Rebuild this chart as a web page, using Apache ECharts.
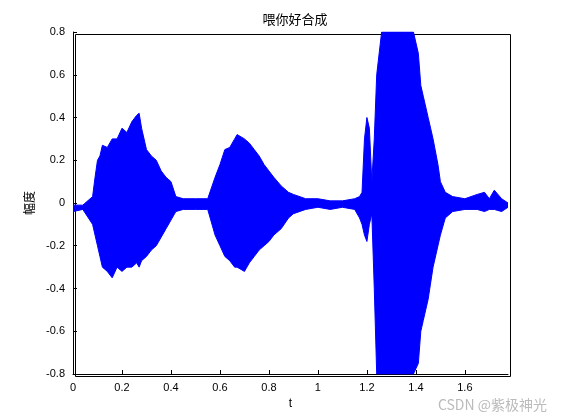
<!DOCTYPE html>
<html>
<head>
<meta charset="utf-8">
<script src="https://cdn.jsdelivr.net/npm/echarts@6/dist/echarts.min.js"></script>
<style>html,body{margin:0;background:#fff}#chart{width:561px;height:420px}</style>
</head>
<body>
<div id="chart"></div>
<script>
// envelope of the waveform: time, upper, lower
var times = [0,0.04,0.08,0.09,0.1,0.11,0.12,0.14,0.16,0.18,0.2,0.22,0.24,0.26,0.27,0.28,0.3,0.32,0.34,0.36,0.38,0.4,0.42,0.45,0.5,0.55,0.58,0.6,0.62,0.64,0.66,0.67,0.7,0.72,0.74,0.76,0.78,0.8,0.82,0.85,0.88,0.9,0.95,1.0,1.05,1.1,1.15,1.17,1.18,1.19,1.2,1.21,1.22,1.23,1.24,1.26,1.28,1.3,1.33,1.36,1.39,1.41,1.42,1.43,1.45,1.47,1.49,1.5,1.52,1.55,1.6,1.65,1.68,1.7,1.72,1.75,1.776];
var upper = [-0.01,-0.01,0.03,0.12,0.2,0.22,0.27,0.26,0.3,0.3,0.35,0.33,0.38,0.41,0.42,0.35,0.25,0.22,0.2,0.15,0.12,0.1,0.03,0.02,0.02,0.02,0.12,0.18,0.25,0.26,0.3,0.32,0.3,0.28,0.25,0.22,0.18,0.15,0.12,0.08,0.05,0.04,0.02,0.02,0.01,0.01,0.02,0.03,0.05,0.3,0.4,0.35,0.1,0.3,0.6,0.8,0.8,0.8,0.8,0.8,0.8,0.7,0.55,0.5,0.4,0.3,0.18,0.1,0.05,0.03,0.02,0.04,0.05,0.02,0.06,0.02,0.0];
var lower = [-0.04,-0.03,-0.1,-0.15,-0.2,-0.25,-0.3,-0.32,-0.35,-0.3,-0.32,-0.3,-0.3,-0.28,-0.3,-0.27,-0.25,-0.22,-0.2,-0.16,-0.12,-0.08,-0.04,-0.03,-0.03,-0.03,-0.15,-0.2,-0.25,-0.27,-0.3,-0.3,-0.32,-0.28,-0.25,-0.22,-0.2,-0.18,-0.15,-0.12,-0.07,-0.05,-0.03,-0.02,-0.03,-0.02,-0.03,-0.07,-0.1,-0.15,-0.18,-0.1,-0.05,-0.4,-0.8,-0.8,-0.8,-0.8,-0.8,-0.8,-0.8,-0.75,-0.6,-0.55,-0.45,-0.3,-0.2,-0.15,-0.07,-0.04,-0.03,-0.03,-0.04,-0.03,-0.03,-0.04,-0.02];
var xTicks = [0,0.2,0.4,0.6,0.8,1,1.2,1.4,1.6];

var chart = echarts.init(document.getElementById('chart'));
var band = times.map(function (t, i) { return [t, upper[i], lower[i]]; });
var font = 'Liberation Sans';
chart.setOption({
  animation: false,
  title: {text: '喂你好合成', left: 290, top: 8, textAlign: 'center',
    textStyle: {fontSize: 13, fontWeight: 'normal', color: '#000', fontFamily: 'Noto Sans CJK SC'}},
  grid: {left: 73, right: 53, top: 32, bottom: 46},
  graphic: [{type: 'text', right: 14, bottom: 8,
    style: {text: 'CSDN @紫极神光', fill: '#bbb', fontSize: 14, fontFamily: 'Noto Sans CJK SC'}}],
  xAxis: {type: 'value', min: 0, max: 1.776, interval: 0.2, name: 't', nameLocation: 'middle', nameGap: 20,
    nameTextStyle: {color: '#000', fontSize: 12},
    axisLine: {onZero: false, lineStyle: {color: '#000'}}, axisTick: {inside: true, length: 4},
    splitLine: {show: false},
    axisLabel: {color: '#000', fontSize: 11, fontFamily: font,
      customValues: xTicks, formatter: function (v) { return String(+v.toFixed(1)); }},
    axisTick: {inside: true, length: 4, customValues: xTicks}},
  yAxis: {type: 'value', min: -0.8, max: 0.8, interval: 0.2, name: '幅度', nameLocation: 'middle', nameGap: 32,
    nameTextStyle: {color: '#000', fontSize: 12, fontFamily: 'Noto Sans CJK SC'},
    axisLine: {lineStyle: {color: '#000'}}, axisTick: {inside: true, length: 4},
    splitLine: {show: false},
    axisLabel: {color: '#000', fontSize: 11, fontFamily: font,
      formatter: function (v) { return v === 0 ? '0' : String(+v.toFixed(1)); }}},
  series: [{
    type: 'custom', data: band, clip: true,
    renderItem: function (params, api) {
      if (params.dataIndex !== 0) return;
      var top = band.map(function (d) { return api.coord([d[0], d[1]]); });
      var bot = band.map(function (d) { return api.coord([d[0], d[2]]); }).reverse();
      return {type: 'polygon', shape: {points: top.concat(bot)}, style: {fill: '#0000ff'}};
    }
  }, {
    type: 'line', data: band.map(function (d) { return [d[0], d[1]]; }), showSymbol: false,
    lineStyle: {color: '#0000ff', width: 1}
  }, {
    type: 'line', data: band.map(function (d) { return [d[0], d[2]]; }), showSymbol: false,
    lineStyle: {color: '#0000ff', width: 1}
  }]
});
// box on top/right like the matlab frame
chart.setOption({graphic: [{type: 'text', right: 14, bottom: 8,
    style: {text: 'CSDN @紫极神光', fill: '#bbb', fontSize: 14, fontFamily: 'Noto Sans CJK SC'}},
  {type: 'rect', left: 73, top: 32, shape: {width: 435, height: 342}, style: {fill: 'none', stroke: '#000', lineWidth: 1}, silent: true}]});
</script>
</body>
</html>
